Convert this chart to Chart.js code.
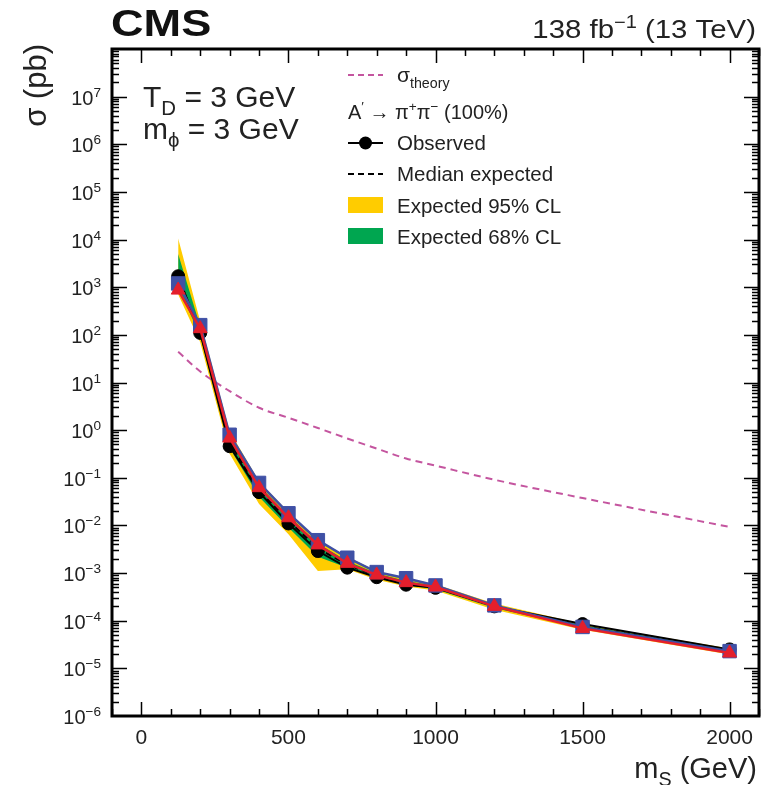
<!DOCTYPE html>
<html>
<head>
<meta charset="utf-8">
<script src="https://cdn.jsdelivr.net/npm/chart.js@4.4.1/dist/chart.umd.min.js"></script>
<style>
  html, body { margin: 0; padding: 0; background: #fff; }
  canvas { display: block; }
</style>
</head>
<body>
<canvas id="limits" width="761" height="785"></canvas>
<script>
// Scalar mediator mass points (GeV)
const masses = [125, 200, 300, 400, 500, 600, 700, 800, 900, 1000, 1200, 1500, 2000];

// Upper limits on the cross section (pb), A' -> pi+ pi- (100%)
const observed       = [1.7e3, 110, 0.46, 0.050, 0.011, 0.0029, 0.0013, 8.2e-4, 5.7e-4, 4.9e-4, 2.0e-4, 8.5e-5, 2.5e-5];
const expectedMedian = [1.5e3, 120, 0.55, 0.055, 0.0125, 0.0033, 0.0015, 8.8e-4, 6.0e-4, 5.0e-4, 2.0e-4, 7.6e-5, 2.3e-5];
const expected68Up   = [5.0e3, 150, 0.75, 0.068, 0.016, 0.0042, 0.0018, 9.8e-4, 6.8e-4, 5.4e-4, 2.15e-4, 8.0e-5, 2.45e-5];
const expected68Down = [1.0e3, 95, 0.42, 0.040, 0.0090, 0.0022, 0.0013, 8.0e-4, 5.6e-4, 4.6e-4, 1.85e-4, 7.0e-5, 2.1e-5];
const expected95Up   = [1.05e4, 190, 0.95, 0.085, 0.019, 0.0050, 0.0022, 1.1e-3, 7.8e-4, 5.8e-4, 2.3e-4, 8.5e-5, 2.6e-5];
const expected95Down = [700, 70, 0.32, 0.028, 0.0065, 0.0011, 0.0012, 7.2e-4, 5.2e-4, 4.3e-4, 1.7e-4, 6.5e-5, 1.95e-5];

// Observed limits for the other two decay scenarios
const observedSquares   = [1.2e3, 160, 0.80, 0.078, 0.018, 0.0049, 0.0021, 1.05e-3, 7.8e-4, 5.5e-4, 2.1e-4, 7.4e-5, 2.3e-5];
const observedTriangles = [870, 135, 0.68, 0.062, 0.0145, 0.0039, 0.0016, 9.1e-4, 6.3e-4, 5.1e-4, 2.0e-4, 6.9e-5, 2.1e-5];

// Theoretical cross section (pb)
const theory = [44, 17, 6.6, 2.95, 1.82, 1.11, 0.67, 0.41, 0.254, 0.18, 0.091, 0.0376, 0.0093];

// Axis ticks
const xTickValues = [0, 500, 1000, 1500, 2000];
const xTickLabels = ['0', '500', '1000', '1500', '2000'];
const yTickExponents = [-6, -5, -4, -3, -2, -1, 0, 1, 2, 3, 4, 5, 6, 7];
const yTickLabels = yTickExponents.map(e => ['10', String(e).replace('-', '\u2212')]);

const FONT = '"Liberation Sans", Arial, Helvetica, sans-serif';
const INK = '#222';
const COLORS = {
  band95: '#ffcc00',
  band68: '#00a650',
  theory: '#c4559f',
  squares: '#3f50a5',
  triangles: '#e41f2c'
};

const pts = ys => masses.map((m, i) => ({ x: m, y: ys[i] }));

// Draw a run of text pieces, some of them sub- or superscripted
function richText(ctx, parts, x, y, opt) {
  const size = opt.size;
  const weight = opt.weight || 'normal';
  const sx = opt.hscale || 1;
  const segs = [];
  let w = 0;
  for (const p of parts) {
    const small = p.sub || p.sup;
    const fs = small ? size * 0.68 : size;
    ctx.font = `${weight} ${fs}px ${FONT}`;
    const mw = ctx.measureText(p.t).width * sx;
    segs.push({ p, fs, mw });
    w += mw;
  }
  let cx = opt.align === 'right' ? x - w : opt.align === 'center' ? x - w / 2 : x;
  ctx.save();
  ctx.fillStyle = opt.color || INK;
  ctx.textBaseline = 'alphabetic';
  ctx.textAlign = 'left';
  for (const s of segs) {
    ctx.font = `${weight} ${s.fs}px ${FONT}`;
    const dy = s.p.sub ? size * 0.27 : s.p.sup ? -size * 0.40 : 0;
    ctx.save();
    ctx.translate(cx, y + dy);
    ctx.scale(sx, 1);
    ctx.fillText(s.p.t, 0, 0);
    ctx.restore();
    cx += s.mw;
  }
  ctx.restore();
  return w;
}

const decorations = {
  id: 'decorations',
  beforeDraw(chart) {
    const ctx = chart.ctx;
    ctx.save();
    ctx.fillStyle = '#fff';
    ctx.fillRect(0, 0, chart.width, chart.height);
    ctx.restore();
  },
  afterDraw(chart) {
    const ctx = chart.ctx;
    const { left, right, top, bottom } = chart.chartArea;
    const xs = chart.scales.x, ys = chart.scales.y;

    ctx.save();
    ctx.strokeStyle = '#000';
    ctx.lineWidth = 1.5;

    // x ticks, bottom and top, pointing inward
    ctx.beginPath();
    for (let v = -100; v <= 2100; v += 100) {
      const px = Math.round(xs.getPixelForValue(v)) + 0.5;
      const len = v % 500 === 0 ? 14 : 7;
      ctx.moveTo(px, bottom); ctx.lineTo(px, bottom - len);
      ctx.moveTo(px, top); ctx.lineTo(px, top + len);
    }
    // y ticks (log), left and right
    for (let e = -6; e <= 7; e++) {
      for (let k = 1; k <= 9; k++) {
        const v = k * Math.pow(10, e);
        const py = Math.round(ys.getPixelForValue(v)) + 0.5;
        if (py < top || py > bottom) continue;
        const len = k === 1 ? 15 : 7;
        ctx.moveTo(left, py); ctx.lineTo(left + len, py);
        ctx.moveTo(right, py); ctx.lineTo(right - len, py);
      }
    }
    ctx.stroke();

    // frame
    ctx.lineWidth = 3;
    ctx.strokeRect(left, top, right - left, bottom - top);
    ctx.restore();

    // tick labels
    xTickValues.forEach((v, i) => {
      richText(ctx, [{ t: xTickLabels[i] }], xs.getPixelForValue(v), bottom + 28, { size: 21, align: 'center' });
    });
    yTickExponents.forEach((e, i) => {
      const py = ys.getPixelForValue(Math.pow(10, e));
      const [base, exp] = yTickLabels[i];
      richText(ctx, [{ t: base }, { t: exp, sup: true }], left - 11, py + 8, { size: 20, align: 'right' });
    });

    // axis titles
    richText(ctx, [{ t: 'm' }, { t: 'S', sub: true }, { t: ' (GeV)' }], 757, 778, { size: 29, align: 'right' });
    ctx.save();
    ctx.translate(46, 44);
    ctx.rotate(-Math.PI / 2);
    richText(ctx, [{ t: '\u03c3 (pb)' }], 0, 0, { size: 31, align: 'right' });
    ctx.restore();

    // header
    richText(ctx, [{ t: 'CMS' }], 111, 36, { size: 37, weight: 'bold', hscale: 1.22, color: '#111' });
    richText(ctx, [{ t: '138 fb' }, { t: '\u22121', sup: true }, { t: ' (13 TeV)' }], 756, 38, { size: 26, align: 'right', hscale: 1.13 });

    // model parameters
    richText(ctx, [{ t: 'T' }, { t: 'D', sub: true }, { t: ' = 3 GeV' }], 143, 107, { size: 30 });
    richText(ctx, [{ t: 'm' }, { t: '\u03d5', sub: true }, { t: ' = 3 GeV' }], 143, 139, { size: 30 });

    // legend
    const lx0 = 348, lx1 = 383, tx = 397;
    ctx.save();
    ctx.lineWidth = 2;
    ctx.strokeStyle = COLORS.theory;
    ctx.setLineDash([6, 4]);
    ctx.beginPath(); ctx.moveTo(lx0, 75); ctx.lineTo(lx1, 75); ctx.stroke();
    ctx.strokeStyle = '#000';
    ctx.beginPath(); ctx.moveTo(lx0, 174); ctx.lineTo(lx1, 174); ctx.stroke();
    ctx.setLineDash([]);
    ctx.beginPath(); ctx.moveTo(lx0, 143); ctx.lineTo(lx1, 143); ctx.stroke();
    ctx.fillStyle = '#000';
    ctx.beginPath(); ctx.arc((lx0 + lx1) / 2, 143, 6.5, 0, Math.PI * 2); ctx.fill();
    ctx.fillStyle = COLORS.band95;
    ctx.fillRect(lx0, 197, lx1 - lx0, 16);
    ctx.fillStyle = COLORS.band68;
    ctx.fillRect(lx0, 228, lx1 - lx0, 16);
    ctx.restore();

    richText(ctx, [{ t: '\u03c3' }, { t: 'theory', sub: true }], tx, 82, { size: 21 });
    richText(ctx, [{ t: 'A' }, { t: '\u2032', sup: true }, { t: ' \u2192 \u03c0' }, { t: '+', sup: true }, { t: '\u03c0' }, { t: '\u2212', sup: true }, { t: ' (100%)' }], 348, 119, { size: 20 });
    richText(ctx, [{ t: 'Observed' }], tx, 150, { size: 20.5 });
    richText(ctx, [{ t: 'Median expected' }], tx, 181, { size: 20.5 });
    richText(ctx, [{ t: 'Expected 95% CL' }], tx, 213, { size: 20.5 });
    richText(ctx, [{ t: 'Expected 68% CL' }], tx, 244, { size: 20.5 });
  }
};

const lineBase = { tension: 0, pointRadius: 0, pointHoverRadius: 0 };

new Chart(document.getElementById('limits'), {
  type: 'line',
  data: {
    datasets: [
      { ...lineBase, label: 'Expected 95% CL', data: pts(expected95Up), fill: '+1', backgroundColor: COLORS.band95, borderWidth: 0, order: 7 },
      { ...lineBase, label: 'Expected 95% CL (low)', data: pts(expected95Down), fill: false, borderWidth: 0, order: 7 },
      { ...lineBase, label: 'Expected 68% CL', data: pts(expected68Up), fill: '+1', backgroundColor: COLORS.band68, borderWidth: 0, order: 6 },
      { ...lineBase, label: 'Expected 68% CL (low)', data: pts(expected68Down), fill: false, borderWidth: 0, order: 6 },
      { ...lineBase, label: 'Median expected', data: pts(expectedMedian), borderColor: '#000', borderWidth: 2, borderDash: [6, 4], fill: false, order: 5 },
      { ...lineBase, label: '\u03c3 theory', data: pts(theory), borderColor: COLORS.theory, borderWidth: 2, borderDash: [7, 5], fill: false, cubicInterpolationMode: 'monotone', order: 4 },
      { ...lineBase, label: 'Observed', data: pts(observed), borderColor: '#000', backgroundColor: '#000', borderWidth: 2,
        pointStyle: 'circle', pointRadius: 6.5, pointBorderWidth: 1, fill: false, order: 3 },
      { ...lineBase, label: 'Observed (squares)', data: pts(observedSquares), borderColor: COLORS.squares, backgroundColor: COLORS.squares, borderWidth: 2.5,
        pointStyle: 'rect', pointRadius: 9.5, pointBorderWidth: 1, fill: false, order: 2 },
      { ...lineBase, label: 'Observed (triangles)', data: pts(observedTriangles), borderColor: COLORS.triangles, backgroundColor: COLORS.triangles, borderWidth: 2.5,
        pointStyle: 'triangle', pointRadius: 8, pointBorderWidth: 1, fill: false, order: 1 }
    ]
  },
  options: {
    responsive: false,
    animation: false,
    devicePixelRatio: 1,
    layout: { autoPadding: false, padding: { top: 49, right: 2, left: 0, bottom: 0 } },
    plugins: { legend: { display: false }, tooltip: { enabled: false } },
    scales: {
      x: {
        type: 'linear', min: -100, max: 2100,
        grid: { display: false }, border: { display: false },
        ticks: { display: false },
        afterBuildTicks: s => { s.ticks = xTickValues.map(v => ({ value: v })); },
        afterFit: s => { s.height = 69; }
      },
      y: {
        type: 'logarithmic', min: 1e-6, max: 1e8,
        grid: { display: false }, border: { display: false },
        ticks: { display: false },
        afterBuildTicks: s => { s.ticks = yTickExponents.map(e => ({ value: Math.pow(10, e) })); },
        afterFit: s => { s.width = 112; }
      }
    }
  },
  plugins: [decorations]
});
</script>
</body>
</html>
